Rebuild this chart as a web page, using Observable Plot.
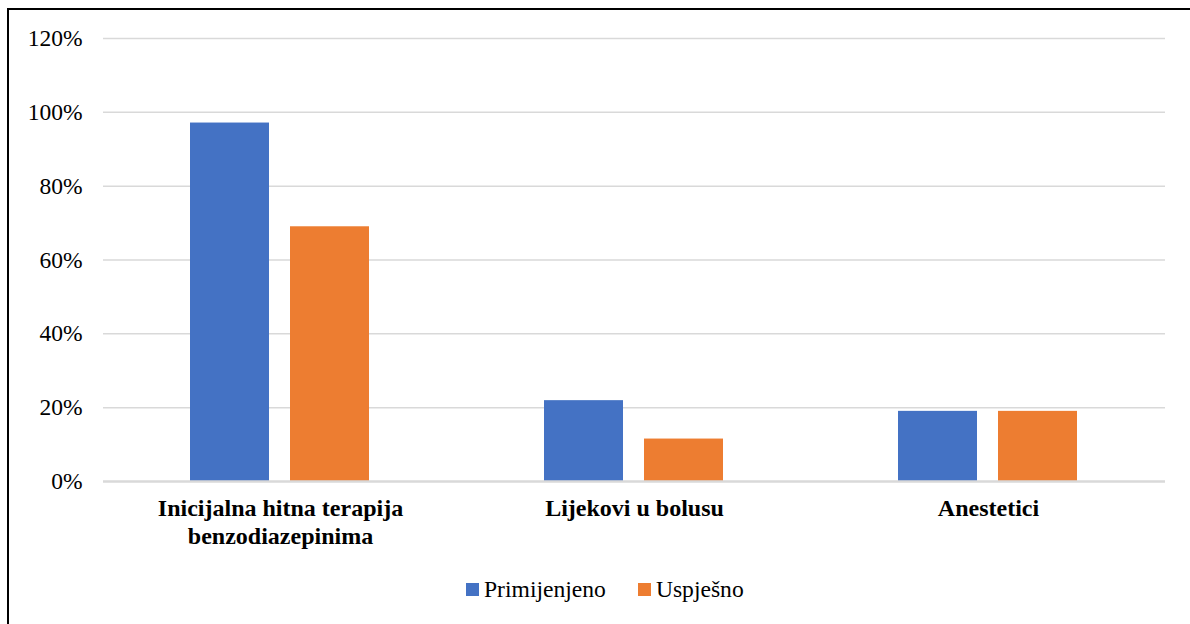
<!DOCTYPE html>
<html>
<head>
<meta charset="utf-8">
<script src="https://cdn.jsdelivr.net/npm/d3@7"></script>
<script src="https://cdn.jsdelivr.net/npm/@observablehq/plot@0.6"></script>
<style>
  html, body { margin: 0; padding: 0; background: #fff; }
  body { width: 1190px; height: 624px; position: relative; overflow: hidden;
         font-family: "Liberation Serif", "Times New Roman", serif; }
  #frame { position: absolute; left: 7px; top: 8px; width: 1183px; height: 616px;
           border-top: 2px solid #000; border-left: 2px solid #000; box-sizing: border-box; }
  #chart { position: absolute; left: 0; top: 0; }
  #chart svg text { font-family: "Liberation Serif", "Times New Roman", serif; }
  #legend { position: absolute; left: 466px; top: 576px; display: flex; align-items: center;
            font-size: 23.6px; color: #000; line-height: 26px; }
  .item { display: flex; align-items: center; margin-right: 32px; }
  .sw { width: 13px; height: 13px; margin-right: 5px; }
</style>
</head>
<body>
<div id="frame"></div>
<div id="chart"></div>
<div id="legend"></div>
<script>
const categories = ["Inicijalna hitna terapija\nbenzodiazepinima", "Lijekovi u bolusu", "Anestetici"];
const seriesNames = ["Primijenjeno", "Uspješno"];
const primijenjeno = [0.971, 0.219, 0.19];
const uspjesno = [0.69, 0.115, 0.19];
const seriesColors = ["#4472C4", "#ED7D31"];
const yTicks = [0, 0.2, 0.4, 0.6, 0.8, 1.0, 1.2];
const yTickLabels = ["0%", "20%", "40%", "60%", "80%", "100%", "120%"];

const serif = '"Liberation Serif", "Times New Roman", serif';

const data = [];
categories.forEach((c, i) => {
  data.push({category: c, series: seriesNames[0], value: primijenjeno[i]});
  data.push({category: c, series: seriesNames[1], value: uspjesno[i]});
});

const chart = Plot.plot({
  width: 1190,
  height: 560,
  marginLeft: 102,
  marginRight: 24,
  marginTop: 38,
  marginBottom: 79,
  style: {fontFamily: serif, color: "#000", background: "transparent"},
  fx: {domain: categories, padding: 0, axis: null, label: null},
  x: {domain: seriesNames, paddingInner: 0.208, paddingOuter: 0.86, axis: null, label: null},
  y: {domain: [0, 1.2], axis: null, label: null},
  color: {domain: seriesNames, range: seriesColors},
  marks: [
    Plot.ruleY(yTicks.filter(d => d > 0), {stroke: "#d9d9d9", strokeWidth: 1.5}),
    Plot.barY(data, {fx: "category", x: "series", y: "value", fill: "series"}),
    Plot.ruleY([0], {stroke: "#d9d9d9", strokeWidth: 2.5}),
    Plot.axisY({ticks: yTicks, tickFormat: d => yTickLabels[yTicks.indexOf(d)], tickSize: 0, tickPadding: 21,
                fontSize: 23.5, fontFamily: serif, fill: "#000", label: null}),
    Plot.axisFx({anchor: "bottom", tickSize: 0, tickPadding: 15, fontSize: 24, fontWeight: "bold",
                 fontFamily: serif, lineHeight: 1.15, fill: "#000", label: null})
  ]
});
document.getElementById("chart").appendChild(chart);

const legend = d3.select("#legend");
seriesNames.forEach((s, i) => {
  const item = legend.append("div").attr("class", "item");
  item.append("div").attr("class", "sw").style("background", seriesColors[i]);
  item.append("span").text(s);
});
</script>
</body>
</html>
